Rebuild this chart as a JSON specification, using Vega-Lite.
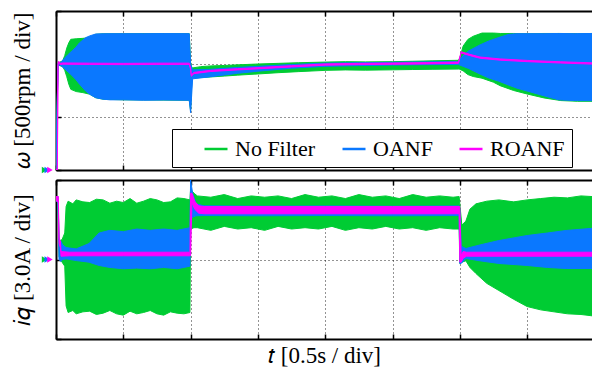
{
 "$schema": "https://vega.github.io/schema/vega-lite/v6.json",
 "background": "white",
 "padding": {"left": 11, "top": 10, "right": 0, "bottom": 0},
 "spacing": 5,
 "datasets": {
  "w": [
   {"s":"No Filter","t":0,"lo":0,"hi":0},
   {"s":"No Filter","t":0.03,"lo":990,"hi":1010},
   {"s":"No Filter","t":0.1,"lo":975,"hi":1030},
   {"s":"No Filter","t":0.13,"lo":940,"hi":1080},
   {"s":"No Filter","t":0.16,"lo":880,"hi":1150},
   {"s":"No Filter","t":0.19,"lo":810,"hi":1200},
   {"s":"No Filter","t":0.22,"lo":761,"hi":1233},
   {"s":"No Filter","t":0.3,"lo":740,"hi":1238},
   {"s":"No Filter","t":0.4,"lo":730,"hi":1242},
   {"s":"No Filter","t":0.5,"lo":715,"hi":1250},
   {"s":"No Filter","t":0.59,"lo":682,"hi":1280},
   {"s":"No Filter","t":0.7,"lo":668,"hi":1285},
   {"s":"No Filter","t":1.0,"lo":662,"hi":1286},
   {"s":"No Filter","t":1.5,"lo":660,"hi":1287},
   {"s":"No Filter","t":1.98,"lo":658,"hi":1286},
   {"s":"No Filter","t":2.0,"lo":560,"hi":1010},
   {"s":"No Filter","t":2.02,"lo":868,"hi":962},
   {"s":"No Filter","t":2.15,"lo":872,"hi":975},
   {"s":"No Filter","t":2.3,"lo":878,"hi":982},
   {"s":"No Filter","t":2.5,"lo":886,"hi":986},
   {"s":"No Filter","t":2.7,"lo":895,"hi":992},
   {"s":"No Filter","t":3.0,"lo":906,"hi":1000},
   {"s":"No Filter","t":3.3,"lo":918,"hi":1006},
   {"s":"No Filter","t":3.6,"lo":928,"hi":1012},
   {"s":"No Filter","t":4.0,"lo":940,"hi":1018},
   {"s":"No Filter","t":4.3,"lo":944,"hi":1022},
   {"s":"No Filter","t":4.6,"lo":942,"hi":1020},
   {"s":"No Filter","t":5.0,"lo":945,"hi":1022},
   {"s":"No Filter","t":5.3,"lo":948,"hi":1026},
   {"s":"No Filter","t":5.6,"lo":950,"hi":1030},
   {"s":"No Filter","t":5.98,"lo":952,"hi":1035},
   {"s":"No Filter","t":6.0,"lo":950,"hi":1060},
   {"s":"No Filter","t":6.05,"lo":935,"hi":1170},
   {"s":"No Filter","t":6.12,"lo":900,"hi":1232},
   {"s":"No Filter","t":6.2,"lo":882,"hi":1262},
   {"s":"No Filter","t":6.33,"lo":866,"hi":1292},
   {"s":"No Filter","t":6.5,"lo":828,"hi":1292},
   {"s":"No Filter","t":6.6,"lo":795,"hi":1288},
   {"s":"No Filter","t":6.8,"lo":750,"hi":1288},
   {"s":"No Filter","t":7.0,"lo":717,"hi":1286},
   {"s":"No Filter","t":7.25,"lo":680,"hi":1288},
   {"s":"No Filter","t":7.5,"lo":655,"hi":1288},
   {"s":"No Filter","t":7.75,"lo":648,"hi":1286},
   {"s":"No Filter","t":7.964,"lo":648,"hi":1288},
   {"s":"OANF","t":0,"lo":0,"hi":0},
   {"s":"OANF","t":0.03,"lo":992,"hi":1008},
   {"s":"OANF","t":0.07,"lo":985,"hi":1015},
   {"s":"OANF","t":0.12,"lo":960,"hi":1050},
   {"s":"OANF","t":0.18,"lo":925,"hi":1090},
   {"s":"OANF","t":0.24,"lo":890,"hi":1125},
   {"s":"OANF","t":0.29,"lo":856,"hi":1154},
   {"s":"OANF","t":0.35,"lo":810,"hi":1200},
   {"s":"OANF","t":0.44,"lo":745,"hi":1248},
   {"s":"OANF","t":0.5,"lo":715,"hi":1265},
   {"s":"OANF","t":0.59,"lo":682,"hi":1283},
   {"s":"OANF","t":0.7,"lo":668,"hi":1285},
   {"s":"OANF","t":0.8,"lo":662,"hi":1286},
   {"s":"OANF","t":1.0,"lo":662,"hi":1286},
   {"s":"OANF","t":1.3,"lo":658,"hi":1286},
   {"s":"OANF","t":1.6,"lo":660,"hi":1287},
   {"s":"OANF","t":1.98,"lo":658,"hi":1286},
   {"s":"OANF","t":2.0,"lo":540,"hi":1000},
   {"s":"OANF","t":2.03,"lo":860,"hi":945},
   {"s":"OANF","t":2.3,"lo":880,"hi":950},
   {"s":"OANF","t":2.7,"lo":912,"hi":968},
   {"s":"OANF","t":3.0,"lo":932,"hi":978},
   {"s":"OANF","t":3.5,"lo":960,"hi":995},
   {"s":"OANF","t":4.0,"lo":978,"hi":1008},
   {"s":"OANF","t":4.5,"lo":985,"hi":1012},
   {"s":"OANF","t":5.0,"lo":990,"hi":1016},
   {"s":"OANF","t":5.5,"lo":994,"hi":1020},
   {"s":"OANF","t":5.98,"lo":996,"hi":1024},
   {"s":"OANF","t":6.0,"lo":990,"hi":1045},
   {"s":"OANF","t":6.06,"lo":975,"hi":1085},
   {"s":"OANF","t":6.13,"lo":958,"hi":1123},
   {"s":"OANF","t":6.3,"lo":905,"hi":1180},
   {"s":"OANF","t":6.43,"lo":868,"hi":1217},
   {"s":"OANF","t":6.58,"lo":838,"hi":1250},
   {"s":"OANF","t":6.73,"lo":800,"hi":1280},
   {"s":"OANF","t":6.85,"lo":772,"hi":1286},
   {"s":"OANF","t":7.0,"lo":745,"hi":1286},
   {"s":"OANF","t":7.25,"lo":700,"hi":1286},
   {"s":"OANF","t":7.47,"lo":662,"hi":1288},
   {"s":"OANF","t":7.7,"lo":655,"hi":1286},
   {"s":"OANF","t":7.964,"lo":654,"hi":1288},
   {"s":"ROANF","t":0,"lo":0,"hi":6},
   {"s":"ROANF","t":0.02,"lo":0,"hi":6},
   {"s":"ROANF","t":0.03,"lo":994,"hi":1006},
   {"s":"ROANF","t":0.04,"lo":1014,"hi":1026},
   {"s":"ROANF","t":0.06,"lo":995,"hi":1007},
   {"s":"ROANF","t":0.1,"lo":998,"hi":1010},
   {"s":"ROANF","t":0.5,"lo":996,"hi":1008},
   {"s":"ROANF","t":1.0,"lo":994,"hi":1006},
   {"s":"ROANF","t":1.5,"lo":996,"hi":1008},
   {"s":"ROANF","t":1.98,"lo":996,"hi":1008},
   {"s":"ROANF","t":2.0,"lo":950,"hi":962},
   {"s":"ROANF","t":2.01,"lo":884,"hi":896},
   {"s":"ROANF","t":2.05,"lo":909,"hi":921},
   {"s":"ROANF","t":2.3,"lo":929,"hi":941},
   {"s":"ROANF","t":2.7,"lo":944,"hi":956},
   {"s":"ROANF","t":3.0,"lo":954,"hi":966},
   {"s":"ROANF","t":3.5,"lo":972,"hi":984},
   {"s":"ROANF","t":4.0,"lo":989,"hi":1001},
   {"s":"ROANF","t":4.5,"lo":994,"hi":1006},
   {"s":"ROANF","t":5.0,"lo":997,"hi":1009},
   {"s":"ROANF","t":5.5,"lo":1001,"hi":1013},
   {"s":"ROANF","t":5.98,"lo":1006,"hi":1018},
   {"s":"ROANF","t":6.0,"lo":1054,"hi":1066},
   {"s":"ROANF","t":6.02,"lo":1104,"hi":1116},
   {"s":"ROANF","t":6.15,"lo":1079,"hi":1091},
   {"s":"ROANF","t":6.3,"lo":1054,"hi":1066},
   {"s":"ROANF","t":6.6,"lo":1036,"hi":1048},
   {"s":"ROANF","t":7.0,"lo":1022,"hi":1034},
   {"s":"ROANF","t":7.5,"lo":1009,"hi":1021},
   {"s":"ROANF","t":7.964,"lo":999,"hi":1011}
  ],
  "iq": [
   {"s":"No Filter","t":0,"lo":4.45,"hi":4.75},
   {"s":"No Filter","t":0.03,"lo":4.3,"hi":4.75},
   {"s":"No Filter","t":0.045,"lo":0.2,"hi":1.4},
   {"s":"No Filter","t":0.09,"lo":-0.2,"hi":1.5},
   {"s":"No Filter","t":0.13,"lo":-0.5,"hi":2.0},
   {"s":"No Filter","t":0.15,"lo":-3.5,"hi":4.0},
   {"s":"No Filter","t":0.18,"lo":-4.0,"hi":4.4},
   {"s":"No Filter","t":0.25,"lo":-3.85,"hi":4.2},
   {"s":"No Filter","t":0.3,"lo":-4.1,"hi":4.5},
   {"s":"No Filter","t":0.4,"lo":-3.95,"hi":4.35},
   {"s":"No Filter","t":0.5,"lo":-3.9,"hi":4.3},
   {"s":"No Filter","t":0.6,"lo":-4.15,"hi":4.55},
   {"s":"No Filter","t":0.7,"lo":-4.05,"hi":4.5},
   {"s":"No Filter","t":0.8,"lo":-3.85,"hi":4.25},
   {"s":"No Filter","t":0.9,"lo":-4.1,"hi":4.4},
   {"s":"No Filter","t":1.0,"lo":-4.2,"hi":4.3},
   {"s":"No Filter","t":1.1,"lo":-3.9,"hi":4.6},
   {"s":"No Filter","t":1.2,"lo":-4.1,"hi":4.25},
   {"s":"No Filter","t":1.3,"lo":-4.0,"hi":4.4},
   {"s":"No Filter","t":1.4,"lo":-3.85,"hi":4.6},
   {"s":"No Filter","t":1.5,"lo":-4.1,"hi":4.5},
   {"s":"No Filter","t":1.6,"lo":-4.2,"hi":4.3},
   {"s":"No Filter","t":1.7,"lo":-3.95,"hi":4.35},
   {"s":"No Filter","t":1.8,"lo":-4.05,"hi":4.65},
   {"s":"No Filter","t":1.9,"lo":-4.1,"hi":4.6},
   {"s":"No Filter","t":1.99,"lo":-4.0,"hi":4.5},
   {"s":"No Filter","t":2.0,"lo":2.3,"hi":5.3},
   {"s":"No Filter","t":2.05,"lo":2.4,"hi":5.0},
   {"s":"No Filter","t":2.1,"lo":2.4,"hi":4.8},
   {"s":"No Filter","t":2.3,"lo":2.2,"hi":4.7},
   {"s":"No Filter","t":2.5,"lo":2.5,"hi":4.9},
   {"s":"No Filter","t":2.7,"lo":2.3,"hi":4.6},
   {"s":"No Filter","t":2.9,"lo":2.4,"hi":4.8},
   {"s":"No Filter","t":3.1,"lo":2.2,"hi":4.7},
   {"s":"No Filter","t":3.3,"lo":2.5,"hi":4.8},
   {"s":"No Filter","t":3.5,"lo":2.3,"hi":4.6},
   {"s":"No Filter","t":3.7,"lo":2.4,"hi":4.9},
   {"s":"No Filter","t":3.9,"lo":2.3,"hi":4.7},
   {"s":"No Filter","t":4.1,"lo":2.5,"hi":4.8},
   {"s":"No Filter","t":4.3,"lo":2.2,"hi":4.6},
   {"s":"No Filter","t":4.5,"lo":2.4,"hi":4.9},
   {"s":"No Filter","t":4.7,"lo":2.3,"hi":4.7},
   {"s":"No Filter","t":4.9,"lo":2.5,"hi":4.8},
   {"s":"No Filter","t":5.1,"lo":2.3,"hi":4.6},
   {"s":"No Filter","t":5.3,"lo":2.4,"hi":4.9},
   {"s":"No Filter","t":5.5,"lo":2.2,"hi":4.7},
   {"s":"No Filter","t":5.7,"lo":2.4,"hi":4.8},
   {"s":"No Filter","t":5.9,"lo":2.3,"hi":4.7},
   {"s":"No Filter","t":5.99,"lo":2.3,"hi":4.75},
   {"s":"No Filter","t":6.0,"lo":-0.3,"hi":4.2},
   {"s":"No Filter","t":6.03,"lo":-0.2,"hi":2.6},
   {"s":"No Filter","t":6.09,"lo":-0.1,"hi":2.9},
   {"s":"No Filter","t":6.15,"lo":-0.6,"hi":3.8},
   {"s":"No Filter","t":6.24,"lo":-1.06,"hi":4.2},
   {"s":"No Filter","t":6.4,"lo":-1.8,"hi":4.4},
   {"s":"No Filter","t":6.58,"lo":-2.34,"hi":4.5},
   {"s":"No Filter","t":6.8,"lo":-3.0,"hi":4.35},
   {"s":"No Filter","t":7.0,"lo":-3.55,"hi":4.5},
   {"s":"No Filter","t":7.2,"lo":-3.8,"hi":4.6},
   {"s":"No Filter","t":7.4,"lo":-3.95,"hi":4.7},
   {"s":"No Filter","t":7.6,"lo":-4.1,"hi":4.65},
   {"s":"No Filter","t":7.8,"lo":-4.15,"hi":4.8},
   {"s":"No Filter","t":7.964,"lo":-4.25,"hi":4.75},
   {"s":"OANF","t":0,"lo":4.45,"hi":4.75},
   {"s":"OANF","t":0.03,"lo":4.3,"hi":4.75},
   {"s":"OANF","t":0.045,"lo":0.0,"hi":1.4},
   {"s":"OANF","t":0.07,"lo":-0.15,"hi":1.4},
   {"s":"OANF","t":0.1,"lo":0.0,"hi":1.1},
   {"s":"OANF","t":0.15,"lo":0.05,"hi":0.9},
   {"s":"OANF","t":0.3,"lo":-0.08,"hi":0.8},
   {"s":"OANF","t":0.49,"lo":-0.2,"hi":1.2},
   {"s":"OANF","t":0.64,"lo":-0.45,"hi":2.0},
   {"s":"OANF","t":0.8,"lo":-0.6,"hi":2.2},
   {"s":"OANF","t":1.0,"lo":-0.7,"hi":2.1},
   {"s":"OANF","t":1.2,"lo":-0.65,"hi":2.3},
   {"s":"OANF","t":1.4,"lo":-0.7,"hi":2.2},
   {"s":"OANF","t":1.6,"lo":-0.6,"hi":2.3},
   {"s":"OANF","t":1.8,"lo":-0.7,"hi":2.2},
   {"s":"OANF","t":1.99,"lo":-0.5,"hi":2.4},
   {"s":"OANF","t":2.0,"lo":3.0,"hi":6.0},
   {"s":"OANF","t":2.03,"lo":3.2,"hi":5.0},
   {"s":"OANF","t":2.08,"lo":3.3,"hi":4.2},
   {"s":"OANF","t":2.2,"lo":3.32,"hi":4.05},
   {"s":"OANF","t":3.0,"lo":3.3,"hi":4.02},
   {"s":"OANF","t":4.0,"lo":3.32,"hi":4.04},
   {"s":"OANF","t":5.0,"lo":3.3,"hi":4.02},
   {"s":"OANF","t":5.99,"lo":3.32,"hi":4.04},
   {"s":"OANF","t":6.0,"lo":-0.3,"hi":3.7},
   {"s":"OANF","t":6.02,"lo":-0.3,"hi":1.0},
   {"s":"OANF","t":6.09,"lo":0.08,"hi":0.83},
   {"s":"OANF","t":6.3,"lo":-0.1,"hi":1.1},
   {"s":"OANF","t":6.58,"lo":-0.3,"hi":1.43},
   {"s":"OANF","t":7.0,"lo":-0.45,"hi":1.81},
   {"s":"OANF","t":7.3,"lo":-0.6,"hi":2.0},
   {"s":"OANF","t":7.58,"lo":-0.68,"hi":2.19},
   {"s":"OANF","t":7.964,"lo":-0.68,"hi":2.35},
   {"s":"ROANF","t":0,"lo":4.45,"hi":4.75},
   {"s":"ROANF","t":0.035,"lo":4.3,"hi":4.75},
   {"s":"ROANF","t":0.045,"lo":1.2,"hi":1.6},
   {"s":"ROANF","t":0.065,"lo":0.9,"hi":1.4},
   {"s":"ROANF","t":0.075,"lo":0.25,"hi":0.6},
   {"s":"ROANF","t":0.2,"lo":0.28,"hi":0.55},
   {"s":"ROANF","t":1.0,"lo":0.28,"hi":0.55},
   {"s":"ROANF","t":1.99,"lo":0.28,"hi":0.55},
   {"s":"ROANF","t":2.0,"lo":0.3,"hi":5.0},
   {"s":"ROANF","t":2.02,"lo":4.3,"hi":5.0},
   {"s":"ROANF","t":2.06,"lo":3.8,"hi":4.4},
   {"s":"ROANF","t":2.12,"lo":3.5,"hi":4.05},
   {"s":"ROANF","t":2.2,"lo":3.45,"hi":4.0},
   {"s":"ROANF","t":3.0,"lo":3.45,"hi":4.0},
   {"s":"ROANF","t":4.0,"lo":3.45,"hi":4.0},
   {"s":"ROANF","t":5.0,"lo":3.45,"hi":4.0},
   {"s":"ROANF","t":5.99,"lo":3.45,"hi":4.0},
   {"s":"ROANF","t":6.0,"lo":-0.2,"hi":4.0},
   {"s":"ROANF","t":6.02,"lo":-0.2,"hi":0.3},
   {"s":"ROANF","t":6.05,"lo":0.1,"hi":0.6},
   {"s":"ROANF","t":6.1,"lo":0.25,"hi":0.55},
   {"s":"ROANF","t":7.0,"lo":0.25,"hi":0.55},
   {"s":"ROANF","t":7.964,"lo":0.25,"hi":0.55}
  ],
  "marks": [
   {"s":"No Filter","t":-0.17,"hi":0},
   {"s":"OANF","t":-0.13,"hi":0},
   {"s":"ROANF","t":-0.09,"hi":0}
  ]
 },
 "vconcat": [
  {
   "width": 536, "height": 159,
   "layer": [
    {
     "data": {"name": "w"},
     "mark": {"type": "area", "strokeWidth": 1, "clip": true},
     "encoding": {
      "x": {"field": "t", "type": "quantitative", "scale": {"domain": [0, 7.964], "nice": false, "zero": false}, "axis": {"values": [0,1,2,3,4,5,6,7], "title": null}},
      "y": {"field": "hi", "type": "quantitative", "scale": {"domain": [0, 1500], "nice": false}, "axis": {"values": [0,500,1000,1500]}, "title": "𝜔 [500rpm / div]"},
      "y2": {"field": "lo"},
      "color": {"field": "s", "type": "nominal", "scale": {"domain": ["No Filter","OANF","ROANF"], "range": ["#00CC33","#0A78FF","#FF00FF"]},
       "legend": {"orient": "none", "legendX": 116, "legendY": 118, "direction": "horizontal", "title": " ", "titleOrient": "left", "titlePadding": 24, "titleFontSize": 1, "padding": 7, "strokeColor": "black", "fillColor": "white", "symbolType": "stroke", "symbolSize": 529, "symbolStrokeWidth": 2.5, "labelFontSize": 22, "labelColor": "black", "labelOffset": 6, "columnPadding": 21, "labelExpr": "datum.label == 'ROANF' ? 'ROANF\u00a0\u00a0\u00a0\u00a0\u00a0' : datum.label"}},
      "stroke": {"field": "s", "type": "nominal", "scale": {"domain": ["No Filter","OANF","ROANF"], "range": ["#00CC33","#0A78FF","#FF00FF"]},
       "legend": {"orient": "none", "legendX": 116, "legendY": 118, "direction": "horizontal", "title": " ", "titleOrient": "left", "titlePadding": 24, "titleFontSize": 1, "padding": 7, "strokeColor": "black", "fillColor": "white", "symbolType": "stroke", "symbolSize": 529, "symbolStrokeWidth": 2.5, "labelFontSize": 22, "labelColor": "black", "labelOffset": 6, "columnPadding": 21, "labelExpr": "datum.label == 'ROANF' ? 'ROANF\u00a0\u00a0\u00a0\u00a0\u00a0' : datum.label"}}
     }
    },
    {
     "data": {"name": "w"},
     "mark": {"type": "area", "opacity": 0},
     "encoding": {
      "x": {"field": "t", "type": "quantitative", "axis": {"orient": "top", "values": [0,1,2,3,4,5,6,7], "grid": false, "title": null}},
      "y": {"field": "hi", "type": "quantitative", "title": "𝜔 [500rpm / div]"},
      "y2": {"field": "lo"}
     }
    },
    {
     "data": {"name": "marks"},
     "mark": {"type": "point", "shape": "triangle-right", "filled": true, "size": 40, "opacity": 1, "clip": false},
     "encoding": {
      "x": {"field": "t", "type": "quantitative", "axis": null},
      "y": {"field": "hi", "type": "quantitative", "title": "𝜔 [500rpm / div]"},
      "color": {"field": "s", "type": "nominal"}
     }
    }
   ],
   "resolve": {"axis": {"x": "independent"}}
  },
  {
   "width": 536, "height": 159,
   "layer": [
    {
     "data": {"name": "iq"},
     "mark": {"type": "area", "strokeWidth": 1, "clip": true},
     "encoding": {
      "x": {"field": "t", "type": "quantitative", "scale": {"domain": [0, 7.964], "nice": false, "zero": false}, "axis": {"values": [0,1,2,3,4,5,6,7]}, "title": "𝑡 [0.5s / div]"},
      "y": {"field": "hi", "type": "quantitative", "scale": {"domain": [-6, 6], "nice": false}, "axis": {"values": [-6,-3,0,3,6]}, "title": "𝑖𝑞 [3.0A / div]"},
      "y2": {"field": "lo"},
      "color": {"field": "s", "type": "nominal", "scale": {"domain": ["No Filter","OANF","ROANF"], "range": ["#00CC33","#0A78FF","#FF00FF"]}, "legend": null},
      "stroke": {"field": "s", "type": "nominal", "scale": {"domain": ["No Filter","OANF","ROANF"], "range": ["#00CC33","#0A78FF","#FF00FF"]}, "legend": null}
     }
    },
    {
     "data": {"name": "iq"},
     "mark": {"type": "area", "opacity": 0},
     "encoding": {
      "x": {"field": "t", "type": "quantitative", "axis": {"orient": "top", "values": [0,1,2,3,4,5,6,7], "grid": false, "title": null}},
      "y": {"field": "hi", "type": "quantitative", "title": "𝑖𝑞 [3.0A / div]"},
      "y2": {"field": "lo"}
     }
    },
    {
     "data": {"name": "marks"},
     "mark": {"type": "point", "shape": "triangle-right", "filled": true, "size": 40, "opacity": 1, "clip": false},
     "encoding": {
      "x": {"field": "t", "type": "quantitative", "axis": null},
      "y": {"field": "hi", "type": "quantitative", "title": "𝑖𝑞 [3.0A / div]"},
      "color": {"field": "s", "type": "nominal", "legend": null}
     }
    }
   ],
   "resolve": {"axis": {"x": "independent"}}
  }
 ],
 "resolve": {"scale": {"color": "independent", "stroke": "independent"}},
 "config": {
  "font": "Liberation Serif",
  "view": {"stroke": null},
  "legend": {"labelFont": "Liberation Serif"},
  "axis": {"domainColor": "black", "domainWidth": 2, "tickColor": "black", "tickWidth": 1.5, "tickSize": -5, "labels": false, "grid": true, "gridColor": "black", "gridDash": [1, 3], "gridWidth": 1, "gridOpacity": 0.85, "titleFont": "Liberation Serif", "titleFontSize": 23, "titleFontWeight": "normal", "titleColor": "black", "titlePadding": 21},
  "axisX": {"titlePadding": 5}
 }
}
